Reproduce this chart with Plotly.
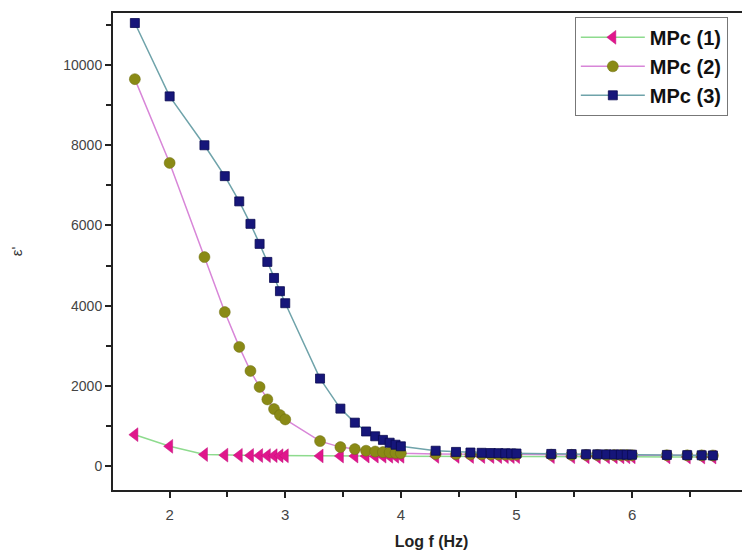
import plotly.graph_objects as go

log_f = [1.699, 2.0, 2.301, 2.477, 2.602, 2.699, 2.778, 2.845, 2.903, 2.954, 3.0,
         3.301, 3.477, 3.602, 3.699, 3.778, 3.845, 3.903, 3.954, 4.0,
         4.301, 4.477, 4.602, 4.699, 4.778, 4.845, 4.903, 4.954, 5.0,
         5.301, 5.477, 5.602, 5.699, 5.778, 5.845, 5.903, 5.954, 6.0,
         6.301, 6.477, 6.602, 6.699]

mpc1 = [780, 490, 285, 270, 265, 262, 260, 258, 256, 255, 254,
        250, 248, 247, 246, 245, 244, 243, 242, 242,
        240, 238, 237, 236, 235, 234, 234, 233, 233,
        232, 231, 230, 230, 229, 229, 228, 228, 227,
        226, 225, 224, 223]

mpc2 = [9650, 7560, 5210, 3840, 2970, 2370, 1970, 1660, 1420, 1270, 1160,
        620, 470, 420, 380, 360, 345, 335, 325, 318,
        300, 295, 292, 290, 288, 286, 285, 284, 283,
        280, 278, 276, 275, 274, 273, 272, 271, 270,
        268, 266, 264, 262]

mpc3 = [11050, 9220, 8000, 7230, 6600, 6040, 5540, 5090, 4690, 4360, 4060,
        2180, 1430, 1080, 860, 740, 650, 580, 530, 490,
        380, 350, 335, 328, 322, 318, 315, 312, 310,
        300, 295, 292, 290, 288, 286, 284, 282, 280,
        275, 270, 266, 262]

names = ["<b>MPc (1)</b>", "<b>MPc (2)</b>", "<b>MPc (3)</b>"]
x_ticks = [2, 3, 4, 5, 6, 7]
y_ticks = [0, 2000, 4000, 6000, 8000, 10000]

fig = go.Figure()
fig.add_trace(go.Scatter(
    x=log_f, y=mpc1, name=names[0], mode="lines+markers",
    line=dict(color="#8EDB8E", width=1.5),
    marker=dict(symbol="triangle-left", size=12, color="#E0168C",
                line=dict(color="#C0107A", width=0.5))))
fig.add_trace(go.Scatter(
    x=log_f, y=mpc2, name=names[1], mode="lines+markers",
    line=dict(color="#D886D8", width=1.5),
    marker=dict(symbol="circle", size=11, color="#8A8A16",
                line=dict(color="#6F6F10", width=0.5))))
fig.add_trace(go.Scatter(
    x=log_f, y=mpc3, name=names[2], mode="lines+markers",
    line=dict(color="#6FA3AA", width=1.5),
    marker=dict(symbol="square", size=9, color="#16167A",
                line=dict(color="#0A0A50", width=0.8))))

fig.update_layout(
    width=742, height=548,
    margin=dict(l=105, r=0, t=5, b=66, autoexpand=False),
    plot_bgcolor="white", paper_bgcolor="white",
    font=dict(family="Liberation Sans, Arial, sans-serif", color="#333333"),
    showlegend=True,
    legend=dict(x=0.725, y=0.992, xanchor="left", yanchor="top",
                bordercolor="#777777", borderwidth=1, bgcolor="white",
                font=dict(size=20, color="#111111", family="Liberation Sans, Arial, sans-serif"),
                tracegroupgap=0, itemwidth=64),
)

fig.update_xaxes(
    range=[1.51, 7.02], showgrid=False, zeroline=False, automargin=False,
    showline=True, linecolor="#222222", linewidth=2, mirror=True,
    ticks="outside", ticklen=6, tickwidth=2, tickcolor="#222222",
    tickvals=x_ticks, ticktext=[str(v) for v in x_ticks],
    tickfont=dict(size=15, color="#444444"), ticklabelstandoff=4,
    minor=dict(ticks="outside", ticklen=5, tickwidth=2, tickcolor="#222222", dtick=0.5, tick0=0),
    title=dict(text="<b>Log f (Hz)</b>", font=dict(size=16, color="#222222"), standoff=14),
)
fig.update_yaxes(
    range=[-600, 11300], showgrid=False, zeroline=False, automargin=False,
    showline=True, linecolor="#222222", linewidth=2,
    ticks="outside", ticklen=6, tickwidth=2, tickcolor="#222222",
    tickvals=y_ticks, ticktext=[str(v) for v in y_ticks],
    tickfont=dict(size=14, color="#444444"),
    minor=dict(ticks="outside", ticklen=5, tickwidth=2, tickcolor="#222222", dtick=1000, tick0=0),
    title=dict(text="ε'", font=dict(size=15, color="#333333"), standoff=46),
)

fig.write_html("out.html")
